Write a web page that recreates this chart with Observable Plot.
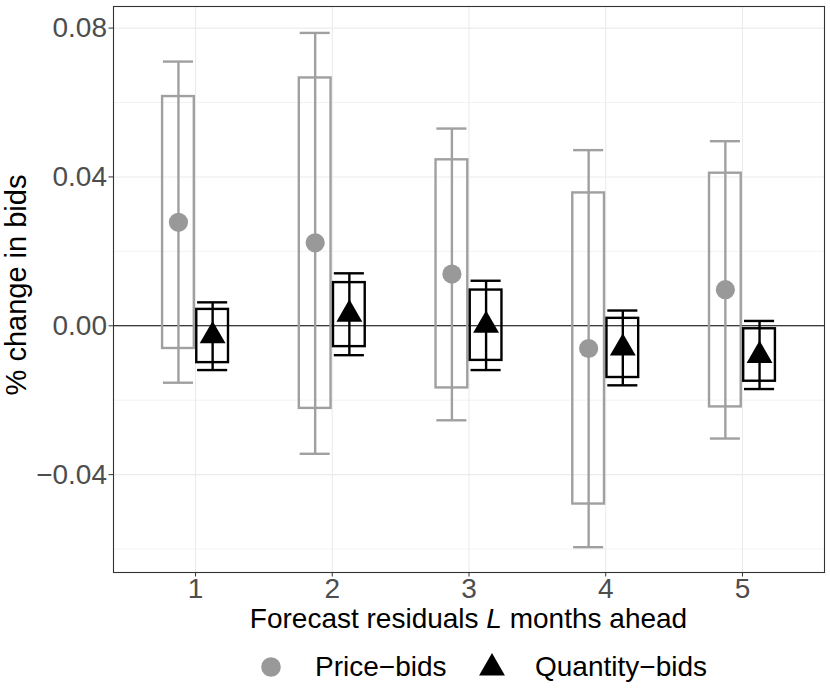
<!DOCTYPE html>
<html>
<head>
<meta charset="utf-8">
<script src="https://cdn.jsdelivr.net/npm/d3@7"></script>
<script src="https://cdn.jsdelivr.net/npm/@observablehq/plot@0.6"></script>
<style>
  body { margin: 0; background: #fff; font-family: "Liberation Sans", Arial, Helvetica, sans-serif; }
  #legend { position: relative; width: 830px; height: 52px; }
  #legend span.lab { position: absolute; top: 1px; line-height: 52px; font-size: 28px; color: #000; white-space: nowrap; }
  #legend svg { position: absolute; }
</style>
</head>
<body>
<div id="chart"></div>
<div id="legend"></div>
<script>
// ---- data ----
const horizons = [1, 2, 3, 4, 5];
const series = ["Price\u2212bids", "Quantity\u2212bids"];

const priceEst   = [0.0278, 0.0223, 0.0139, -0.0061, 0.0097];
const priceBoxLo = [-0.0061, -0.0222, -0.0167, -0.0479, -0.0218];
const priceBoxHi = [0.0616, 0.0666, 0.0446, 0.0357, 0.0410];
const priceWhLo  = [-0.0153, -0.0344, -0.0254, -0.0595, -0.0303];
const priceWhHi  = [0.0710, 0.0787, 0.0530, 0.0472, 0.0496];

const qtyEst   = [-0.0027, 0.0031, 0.0001, -0.0060, -0.0080];
const qtyBoxLo = [-0.0099, -0.0056, -0.0093, -0.0139, -0.0149];
const qtyBoxHi = [0.0044, 0.0116, 0.0096, 0.0020, -0.0008];
const qtyWhLo  = [-0.0119, -0.0079, -0.0119, -0.0160, -0.0170];
const qtyWhHi  = [0.0063, 0.0141, 0.0121, 0.0041, 0.0013];

const yTicks = [-0.04, 0, 0.04, 0.08];
const yMinor = [-0.06, -0.02, 0.02, 0.06];

// ---- build table ----
const rows = [];
horizons.forEach((h, i) => {
  rows.push({h, s: series[0], est: priceEst[i], lo: priceBoxLo[i], hi: priceBoxHi[i], wlo: priceWhLo[i], whi: priceWhHi[i]});
  rows.push({h, s: series[1], est: qtyEst[i], lo: qtyBoxLo[i], hi: qtyBoxHi[i], wlo: qtyWhLo[i], whi: qtyWhHi[i]});
});
const dodge = 0.125, boxHalf = 0.116, capHalf = 0.11;
const X = d => d.h + (d.s === series[0] ? -dodge : dodge);
const colors = ["#999999", "#000000"];
const boxColors = ["#A0A0A0", "#000000"];
const sc = d => d.s === series[0] ? boxColors[0] : boxColors[1];

const chart = Plot.plot({
  width: 830,
  height: 640,
  marginLeft: 113,
  marginRight: 6,
  marginTop: 6,
  marginBottom: 68,
  style: {fontFamily: "'Liberation Sans', Arial, Helvetica, sans-serif", fontSize: "28px", background: "#fff", overflow: "visible"},
  x: {domain: [0.4, 5.6], label: null},
  y: {domain: [-0.0663, 0.0858], label: null},
  color: {domain: series, range: colors},
  symbol: {domain: series, range: ["circle", "triangle"]},
  marks: [
    Plot.ruleY(yMinor, {stroke: "#EBEBEB", strokeWidth: 0.6}),
    Plot.ruleY(yTicks, {stroke: "#EBEBEB", strokeWidth: 1.1}),
    Plot.ruleX(horizons, {stroke: "#EBEBEB", strokeWidth: 1.1}),
    Plot.ruleY([0], {stroke: "#000", strokeWidth: 1.1}),
    Plot.ruleX(rows, {x: X, y1: "wlo", y2: "whi", stroke: sc, strokeWidth: 2.4}),
    Plot.ruleY(rows, {y: "wlo", x1: d => X(d) - capHalf, x2: d => X(d) + capHalf, stroke: sc, strokeWidth: 2.4}),
    Plot.ruleY(rows, {y: "whi", x1: d => X(d) - capHalf, x2: d => X(d) + capHalf, stroke: sc, strokeWidth: 2.4}),
    Plot.rect(rows, {x1: d => X(d) - boxHalf, x2: d => X(d) + boxHalf, y1: "lo", y2: "hi", fill: "none", stroke: sc, strokeWidth: 2.4}),
    Plot.dot(rows, {x: X, y: "est", symbol: "s", fill: "s", r: 9.6, stroke: "none"}),
    Plot.frame({stroke: "#333333", strokeWidth: 1.1}),
    Plot.axisX({ticks: horizons, tickFormat: d => String(d), tickSize: 4.5, tickPadding: 1, stroke: "#333333", fill: "#4D4D4D", label: null}),
    Plot.axisY({ticks: yTicks, tickFormat: d3.format(".2f"), tickSize: 4.5, tickPadding: 2, stroke: "#333333", fill: "#4D4D4D", label: null})
  ]
});
document.getElementById("chart").appendChild(chart);

// axis titles
const svg = d3.select(chart);
const xt = svg.append("text")
  .attr("x", 468.5).attr("y", 628)
  .attr("text-anchor", "middle")
  .attr("font-size", 28).attr("fill", "#000");
xt.append("tspan").text("Forecast residuals ");
xt.append("tspan").attr("font-style", "italic").text("L");
xt.append("tspan").text(" months ahead");

svg.append("text")
  .attr("transform", "translate(26,285) rotate(-90)")
  .attr("text-anchor", "middle")
  .attr("font-size", 29).attr("fill", "#000")
  .text("% change in bids");

// legend
const leg = d3.select("#legend");
const sw1 = leg.append("svg").attr("width", 26).attr("height", 26).style("left", "258px").style("top", "14px");
sw1.append("circle").attr("cx", 13).attr("cy", 13).attr("r", 9.8).attr("fill", colors[0]);
leg.append("span").attr("class", "lab").style("left", "315px").text(series[0]);
const sw2 = leg.append("svg").attr("width", 30).attr("height", 30).style("left", "477px").style("top", "11px");
sw2.append("path").attr("transform", "translate(15,17)").attr("d", d3.symbol(d3.symbolTriangle, Math.PI * 9.6 * 9.6)()).attr("fill", colors[1]);
leg.append("span").attr("class", "lab").style("left", "535px").text(series[1]);
</script>
</body>
</html>
